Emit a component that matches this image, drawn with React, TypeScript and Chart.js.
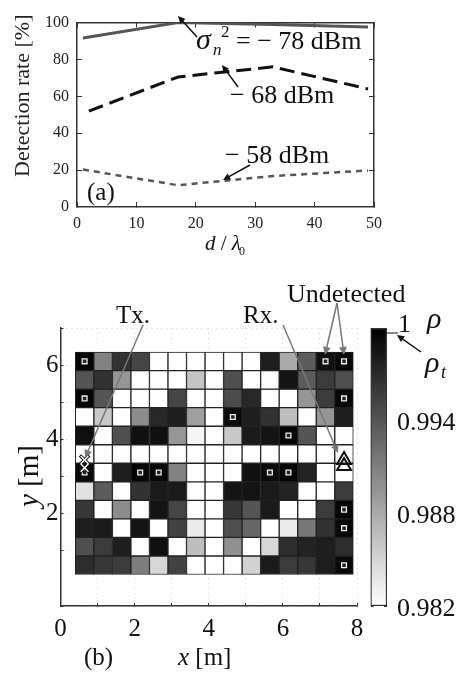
import React, { useEffect, useRef } from "react";
import { Chart, registerables } from "chart.js";

Chart.register(...registerables);

// ---------- panel (a) ----------
const distance = [1, 17, 33, 49];
const distance68 = [2, 17, 33, 49];
const rateMinus78 = [91.7, 100, 99, 97.6];
const rateMinus68 = [52, 70.5, 76, 64];
const rateMinus58 = [20.3, 11.8, 16.8, 19.8];

// ---------- panel (b) ----------
const colCentres = [0.65, 1.15, 1.65, 2.15, 2.65, 3.15, 3.65, 4.15, 4.65, 5.15, 5.65, 6.15, 6.65, 7.15, 7.65];
const rowCentres = [6.1, 5.6, 5.1, 4.6, 4.1, 3.6, 3.1, 2.6, 2.1, 1.6, 1.1, 0.6];
const W = 0.982;
const rhoGrid = [
  [0.9996, 0.9908, 0.9965, 0.9951, W, W, W, W, W, W, 0.9979, 0.988, 0.9936, 0.9989, 0.9996],
  [0.994, 0.9965, 0.9894, W, W, W, 0.9862, W, 0.9944, W, W, 0.9986, 0.9936, 0.9958, 0.9944],
  [0.9996, 0.994, W, W, W, 0.9951, W, W, 0.9947, 0.9972, W, W, 0.9894, 0.9958, 0.9996],
  [W, 0.9859, W, 0.9901, 0.9972, 0.9979, 0.9887, W, 0.9993, 0.9979, 0.9965, 0.9866, W, 0.9894, 0.9979],
  [0.9989, W, 0.9944, 0.9989, 0.9989, 0.9894, 0.9827, W, 0.9859, 0.9982, 0.9986, 0.9996, 0.994, W, W],
  [W, W, W, W, W, W, W, W, W, W, W, W, W, W, W],
  [0.9993, W, 0.9979, 0.9996, 0.9996, 0.9908, W, W, W, 0.9989, 0.9993, 0.9996, 0.9975, W, W],
  [0.9841, 0.9936, W, 0.9965, 0.9982, 0.9982, W, W, 0.9986, 0.9986, 0.9982, 0.9975, W, W, 0.9958],
  [0.9961, W, 0.9901, W, 0.9986, 0.9951, W, W, 0.9961, 0.994, 0.9982, W, W, 0.9958, 0.9996],
  [0.9979, 0.9982, W, 0.9986, W, 0.9954, 0.9834, W, 0.9944, 0.9929, W, 0.9834, 0.9915, 0.9965, 0.9996],
  [0.9944, 0.9958, 0.9979, W, 0.9989, W, 0.9866, W, 0.9898, W, 0.9848, 0.9968, 0.9975, 0.9979, 0.9968],
  [0.9968, 0.9961, 0.9958, 0.9912, 0.9848, 0.9954, W, W, W, 0.9852, 0.9982, 0.9958, 0.9961, 0.9979, 0.9993],
];
const undetectedX = [0.65, 7.15, 7.65, 0.65, 7.65, 4.65, 6.15, 0.65, 2.15, 2.65, 5.65, 6.15, 7.65, 7.65, 7.65];
const undetectedY = [6.1, 6.1, 6.1, 5.1, 5.1, 4.6, 4.1, 3.1, 3.1, 3.1, 3.1, 3.1, 2.1, 1.6, 0.6];
const txX = [0.65, 0.65];
const txY = [3.44, 3.23];
const rxX = [7.65, 7.65];
const rxY = [3.44, 3.28];
const colorbarLabels = ["0.982", "0.988", "0.994"];

const SERIF = "'Liberation Serif'";
const INK = "#111";
const AXIS = "#333";

type Run = { t: string; size: number; italic?: boolean; x?: number; y?: number };

function drawRuns(ctx: CanvasRenderingContext2D, x: number, y: number, runs: Run[], color = INK) {
  ctx.fillStyle = color;
  ctx.textAlign = "left";
  ctx.textBaseline = "alphabetic";
  let cur = x;
  for (const r of runs) {
    ctx.font = `${r.italic ? "italic " : ""}${r.size}px ${SERIF}`;
    const px = r.x ?? cur;
    ctx.fillText(r.t, px, y + (r.y ?? 0));
    cur = px + ctx.measureText(r.t).width;
  }
}

function arrow(ctx: CanvasRenderingContext2D, x1: number, y1: number, x2: number, y2: number, color: string, width: number, head: number) {
  const a = Math.atan2(y2 - y1, x2 - x1);
  ctx.strokeStyle = color;
  ctx.fillStyle = color;
  ctx.lineWidth = width;
  ctx.setLineDash([]);
  ctx.beginPath();
  ctx.moveTo(x1, y1);
  ctx.lineTo(x2 - Math.cos(a) * head * 0.6, y2 - Math.sin(a) * head * 0.6);
  ctx.stroke();
  ctx.beginPath();
  ctx.moveTo(x2, y2);
  ctx.lineTo(x2 - head * Math.cos(a - 0.45), y2 - head * Math.sin(a - 0.45));
  ctx.lineTo(x2 - head * Math.cos(a + 0.45), y2 - head * Math.sin(a + 0.45));
  ctx.closePath();
  ctx.fill();
}

const annotateA = {
  id: "annotateA",
  afterDraw(chart: any) {
    const ctx = chart.ctx as CanvasRenderingContext2D;
    ctx.save();
    arrow(ctx, 197, 37, 178, 16, "#111", 1.5, 8);
    arrow(ctx, 238, 87, 222, 65, "#111", 1.5, 8);
    arrow(ctx, 250, 165, 223, 180, "#111", 1.5, 8);
    drawRuns(ctx, 196, 49, [{ t: "σ", size: 30, italic: true }]);
    drawRuns(ctx, 213, 55, [{ t: "n", size: 17, italic: true }]);
    drawRuns(ctx, 221, 37, [{ t: "2", size: 17 }]);
    drawRuns(ctx, 236, 49, [{ t: "= − 78 dBm", size: 26 }]);
    drawRuns(ctx, 230, 103, [{ t: "− 68 dBm", size: 26 }]);
    drawRuns(ctx, 225, 163, [{ t: "− 58 dBm", size: 26 }]);
    drawRuns(ctx, 87, 200, [{ t: "(a)", size: 25 }]);
    drawRuns(ctx, 205, 250, [
      { t: "d", size: 21, italic: true },
      { t: " / ", size: 21 },
      { t: "λ", size: 21, italic: true },
    ]);
    drawRuns(ctx, 239, 255, [{ t: "0", size: 12 }]);
    ctx.translate(29, 177);
    ctx.rotate(-Math.PI / 2);
    drawRuns(ctx, 0, 0, [{ t: "Detection rate [%]", size: 22 }], "#222");
    ctx.restore();
  },
};

const annotateB = {
  id: "annotateB",
  afterDraw(chart: any) {
    const ctx = chart.ctx as CanvasRenderingContext2D;
    ctx.save();
    arrow(ctx, 143, 325, 85, 458, "#777", 1.5, 9);
    arrow(ctx, 283, 325, 338, 453, "#777", 1.5, 9);
    arrow(ctx, 337, 303, 325, 355, "#777", 1.5, 9);
    arrow(ctx, 337, 303, 344, 355, "#777", 1.5, 9);
    drawRuns(ctx, 116, 323, [{ t: "Tx.", size: 25 }]);
    drawRuns(ctx, 243, 323, [{ t: "Rx.", size: 25 }]);
    drawRuns(ctx, 287, 302, [{ t: "Undetected", size: 26 }]);
    drawRuns(ctx, 84, 665, [{ t: "(b)", size: 25 }]);
    drawRuns(ctx, 178, 665, [
      { t: "x", size: 25, italic: true },
      { t: " [m]", size: 25 },
    ]);
    ctx.translate(38, 507);
    ctx.rotate(-Math.PI / 2);
    drawRuns(ctx, 0, 0, [
      { t: "y", size: 29, italic: true },
      { t: " [m]", size: 29 },
    ]);
    ctx.restore();
  },
};

const annotateC = {
  id: "annotateC",
  afterDraw(chart: any) {
    const ctx = chart.ctx as CanvasRenderingContext2D;
    ctx.save();
    ctx.strokeStyle = "#111";
    ctx.lineWidth = 1;
    ctx.beginPath();
    ctx.moveTo(387, 333);
    ctx.lineTo(398, 333);
    ctx.stroke();
    arrow(ctx, 421, 352, 397, 335, "#111", 1.5, 8);
    drawRuns(ctx, 398, 332, [{ t: "1", size: 26 }]);
    drawRuns(ctx, 427, 328, [{ t: "ρ", size: 30, italic: true }]);
    drawRuns(ctx, 425, 372, [{ t: "ρ", size: 30, italic: true }]);
    drawRuns(ctx, 441, 378, [{ t: "t", size: 18, italic: true }]);
    ctx.restore();
  },
};

const fix = (w?: number, h?: number) => (s: any) => {
  if (w !== undefined) s.width = w;
  if (h !== undefined) s.height = h;
};

const rhoToGray = (rho: number) => {
  const g = Math.round(((1 - rho) / 0.018) * 255);
  return `rgb(${g},${g},${g})`;
};

export default function App() {
  const aRef = useRef<HTMLCanvasElement>(null);
  const bRef = useRef<HTMLCanvasElement>(null);
  const cRef = useRef<HTMLCanvasElement>(null);

  useEffect(() => {
    const tickFont = { family: SERIF, size: 16 };
    const frameA = {
      display: true,
      drawOnChartArea: false,
      tickLength: -5,
      tickColor: AXIS,
      tickWidth: 1,
    };
    const line = (xs: number[], ys: number[], label: string, color: string, width: number, dash: number[]) => ({
      label,
      data: xs.map((x, i) => ({ x, y: ys[i] })),
      borderColor: color,
      borderWidth: width,
      borderDash: dash,
      pointRadius: 0,
      tension: 0,
      fill: false,
    });

    const a = new Chart(aRef.current!, {
      type: "line",
      data: {
        datasets: [
          line(distance, rateMinus78, "-78 dBm", "#555", 3, []),
          line(distance68, rateMinus68, "-68 dBm", "#111", 3, [15, 7]),
          line(distance, rateMinus58, "-58 dBm", "#555", 2.5, [6, 5]),
        ],
      },
      options: {
        responsive: false,
        animation: false,
        layout: { padding: { left: 37, right: 84, top: 13, bottom: 418 } },
        plugins: { legend: { display: false }, tooltip: { enabled: false }, title: { display: false } },
        scales: {
          x: {
            type: "linear",
            min: 0,
            max: 50,
            afterFit: fix(undefined, 50),
            ticks: { stepSize: 10, font: tickFont, color: "#222", padding: 12, maxRotation: 0, autoSkip: false },
            grid: frameA,
            border: { color: AXIS, width: 1.5 },
          },
          y: {
            min: 0,
            max: 100,
            afterFit: fix(40),
            ticks: { stepSize: 20, font: tickFont, color: "#222", padding: 13, autoSkip: false },
            grid: frameA,
            border: { color: AXIS, width: 1.5 },
          },
          xTop: {
            type: "linear",
            axis: "x",
            position: "top",
            min: 0,
            max: 50,
            afterFit: fix(undefined, 0),
            ticks: { display: false, stepSize: 10 },
            grid: frameA,
            border: { color: AXIS, width: 1.5 },
          },
          yRight: {
            type: "linear",
            axis: "y",
            position: "right",
            min: 0,
            max: 100,
            afterFit: fix(0),
            ticks: { display: false, stepSize: 20 },
            grid: frameA,
            border: { color: AXIS, width: 1.5 },
          },
        },
      } as any,
      plugins: [annotateA],
    });

    const bigFont = { family: SERIF, size: 25 };
    const dotted = {
      display: true,
      color: "#cfcfcf",
      tickColor: AXIS,
      tickLength: -3,
      tickWidth: 1,
    };
    const cellSets = rowCentres.map((y, r) => ({
      type: "bar",
      label: `row ${r}`,
      data: colCentres.map((x) => ({ x, y: [y - 0.25, y + 0.25] })),
      backgroundColor: rhoGrid[r].map(rhoToGray),
      borderColor: "#222",
      borderWidth: 1,
      borderSkipped: false,
      barPercentage: 1,
      categoryPercentage: 1,
      grouped: false,
      order: 4,
    }));
    const pts = (xs: number[], ys: number[]) => xs.map((x, i) => ({ x, y: ys[i] }));

    const b = new Chart(bRef.current!, {
      type: "bar",
      data: {
        datasets: [
          {
            type: "scatter",
            label: "Undetected",
            data: pts(undetectedX, undetectedY),
            pointStyle: "rect",
            pointRadius: 3.4,
            backgroundColor: "#222",
            borderColor: "#eee",
            borderWidth: 1.3,
            order: 3,
          },
          {
            type: "scatter",
            label: "Tx core",
            data: pts(txX, txY),
            pointStyle: "crossRot",
            pointRadius: 5.5,
            borderColor: "#fff",
            borderWidth: 1.4,
            order: 0,
          },
          {
            type: "scatter",
            label: "Tx",
            data: pts(txX, txY),
            pointStyle: "crossRot",
            pointRadius: 6.5,
            borderColor: "#111",
            borderWidth: 3.4,
            order: 1,
          },
          {
            type: "scatter",
            label: "Rx",
            data: pts(rxX, rxY),
            pointStyle: "triangle",
            pointRadius: 8,
            backgroundColor: "rgba(255,255,255,0)",
            borderColor: "#111",
            borderWidth: 2,
            order: 2,
          },
          ...cellSets,
        ],
      } as any,
      options: {
        responsive: false,
        animation: false,
        layout: { padding: { left: 20.5, right: 101, top: 328, bottom: 9 } },
        plugins: { legend: { display: false }, tooltip: { enabled: false } },
        scales: {
          x: {
            type: "linear",
            min: 0,
            max: 8,
            offset: false,
            afterFit: fix(undefined, 60),
            ticks: {
              stepSize: 1,
              font: bigFont,
              color: INK,
              padding: 11,
              maxRotation: 0,
              autoSkip: false,
              callback: (v: number) => (v % 2 === 0 ? String(v) : ""),
            },
            grid: { ...dotted, offset: false },
            border: { color: AXIS, width: 1.5, dash: [1, 4] },
          },
          y: {
            type: "linear",
            min: -0.5,
            max: 7,
            afterFit: fix(40),
            ticks: {
              stepSize: 1,
              font: bigFont,
              color: INK,
              padding: 5,
              autoSkip: false,
              callback: (v: number) => (v > 0 && v < 7 && v % 2 === 0 ? String(v) : ""),
            },
            grid: dotted,
            border: { color: AXIS, width: 1.5, dash: [1, 4] },
          },
        },
      } as any,
      plugins: [annotateB],
    });

    const barFrame = { display: true, drawOnChartArea: false, tickLength: -3, tickColor: AXIS, tickWidth: 1 };
    const c = new Chart(cRef.current!, {
      type: "bar",
      data: {
        labels: ["rho"],
        datasets: [
          {
            data: [[0.982, 1]],
            backgroundColor: (ctx: any) => {
              const area = ctx.chart.chartArea;
              if (!area) return "#888";
              const g = ctx.chart.ctx.createLinearGradient(0, area.top, 0, area.bottom);
              g.addColorStop(0, "#000");
              g.addColorStop(1, "#fff");
              return g;
            },
            borderColor: AXIS,
            borderWidth: 1.5,
            borderSkipped: false,
            barPercentage: 1,
            categoryPercentage: 1,
          },
        ],
      } as any,
      options: {
        responsive: false,
        animation: false,
        layout: { padding: { left: 370.5, right: 0, top: 328, bottom: 69 } },
        plugins: { legend: { display: false }, tooltip: { enabled: false } },
        scales: {
          x: { display: false },
          y: {
            position: "right",
            min: 0.982,
            max: 1,
            afterFit: fix(71),
            ticks: {
              stepSize: 0.002,
              font: { family: SERIF, size: 26 },
              color: INK,
              padding: 13,
              labelOffset: 3,
              autoSkip: false,
              callback: (v: number) => {
                const s = v.toFixed(3);
                return colorbarLabels.includes(s) ? s : "";
              },
            },
            grid: barFrame,
            border: { display: false },
          },
          yLeft: {
            type: "linear",
            axis: "y",
            position: "left",
            min: 0.982,
            max: 1,
            afterFit: fix(0),
            ticks: { display: false, stepSize: 0.002 },
            grid: barFrame,
            border: { display: false },
          },
        },
      } as any,
      plugins: [annotateC],
    });

    return () => {
      a.destroy();
      b.destroy();
      c.destroy();
    };
  }, []);

  const layer: React.CSSProperties = { position: "absolute", left: 0, top: 0 };
  return (
    <div style={{ position: "absolute", left: 0, top: 0, width: 458, height: 675, background: "#fff", overflow: "hidden" }}>
      <canvas ref={aRef} width={458} height={675} style={layer} />
      <canvas ref={cRef} width={458} height={675} style={layer} />
      <canvas ref={bRef} width={458} height={675} style={layer} />
    </div>
  );
}
